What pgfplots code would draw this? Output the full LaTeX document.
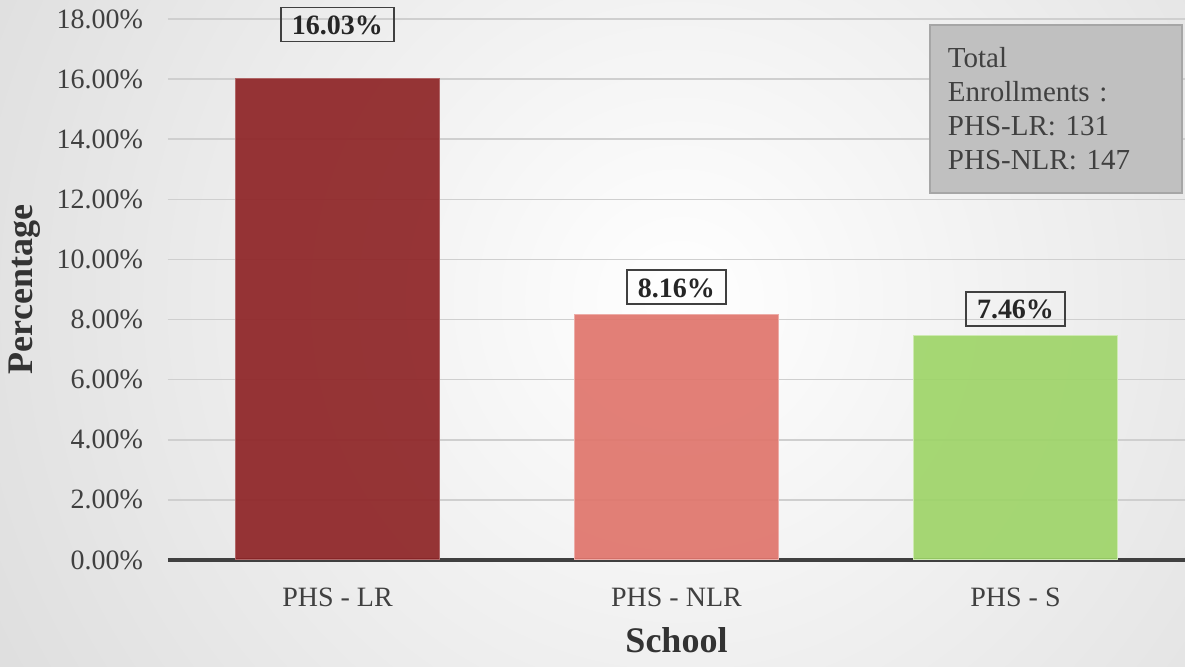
\documentclass[border=0pt]{standalone}
\usepackage{fontspec}
\setmainfont{Liberation Serif}
\usepackage{pgfplots}
\pgfplotsset{compat=1.18}
\definecolor{barA}{HTML}{8E2426}
\definecolor{barB}{HTML}{E0756C}
\definecolor{barC}{HTML}{9DD466}
\definecolor{txt}{HTML}{404040}
\definecolor{lbl}{HTML}{333333}
\definecolor{gridc}{HTML}{CFCFCF}
\definecolor{boxfill}{HTML}{C0C0C0}
\definecolor{boxline}{HTML}{A6A6A6}
\begin{document}
\begin{tikzpicture}
% background, 1px = 0.5pt
\begin{scope}
\clip (-84pt,-53.5pt) rectangle (508.5pt,280pt);
\shade[inner color=white, outer color=black!23] (256pt,130pt) circle (700pt);
\end{scope}
\begin{axis}[
    scale only axis,
    width=508.5pt, height=270.5pt,
    at={(0,0)}, anchor=south west,
    ymin=0, ymax=18,
    xmin=-0.5, xmax=2.5,
    ytick={0,2,...,18},
    xtick={0,1,2},
    xticklabels={PHS - LR, PHS - NLR, PHS - S},
    yticklabel={\pgfmathprintnumber[fixed,fixed zerofill,precision=2]{\tick}\%},
    /pgf/number format/assume math mode=true,
    ticklabel style={font=\fontsize{14}{16}\selectfont, text=txt},
    yticklabel style={anchor=east, xshift=-9pt},
    xticklabel style={anchor=center, yshift=-18.5pt},
    major tick length=0pt,
    ymajorgrids=true,
    grid style={gridc, line width=0.75pt},
    axis x line*=bottom,
    axis y line*=left,
    y axis line style={draw=none},
    x axis line style={draw=txt, line width=2pt, -},
    ylabel={Percentage},
    xlabel={School},
    label style={font=\fontsize{18}{20}\selectfont\bfseries, text=lbl},
    ylabel style={at={(axis description cs:-0.1406,0.5)}, anchor=center},
    xlabel style={at={(axis description cs:0.5,-0.148)}, anchor=center},
    ybar, bar width=102pt, bar shift=0pt,
    nodes near coords={\pgfmathprintnumber[fixed,fixed zerofill,precision=2]{\pgfplotspointmeta}\%},
    nodes near coords style={font=\fontsize{14}{16}\selectfont\bfseries, text=black!85,
        draw=black!75, line width=0.75pt, fill=none, anchor=center,
        inner xsep=5.5pt, inner ysep=3.5pt, text height=10pt, text depth=0pt},
    clip=false,
]
\addplot[fill=barA, draw=barA!70!white, line width=0.5pt, fill opacity=0.92,
    every node near coord/.append style={yshift=26.75pt, fill opacity=1}]
    coordinates {(0,16.03)};
\addplot[fill=barB, draw=barB!60!white, line width=0.5pt, fill opacity=0.92,
    every node near coord/.append style={yshift=13.75pt, fill opacity=1}]
    coordinates {(1,8.16)};
\addplot[fill=barC, draw=barC!50!white, line width=0.5pt, fill opacity=0.9,
    every node near coord/.append style={yshift=13.5pt, fill opacity=1}]
    coordinates {(2,7.46)};
\node[anchor=north east, fill=boxfill, draw=boxline, line width=1pt,
      text width=108pt, inner xsep=9pt, inner ysep=0pt, minimum height=84pt,
      align=left, text=txt, font=\fontsize{14.5}{17}\selectfont]
    at (rel axis cs:0.998,0.991)
    {Total\\Enrollments :\\PHS-LR: 131\\PHS-NLR: 147};
\end{axis}
\pgfresetboundingbox
\path (-84pt,-53.5pt) rectangle (508.5pt,280pt);
\end{tikzpicture}
\end{document}
